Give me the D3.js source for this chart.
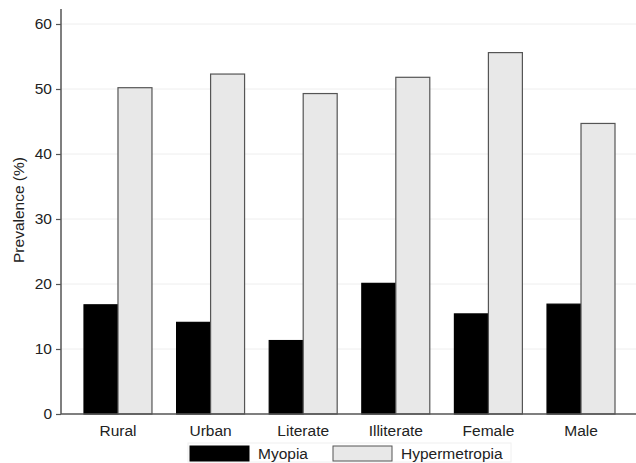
<!DOCTYPE html>
<html>
<head>
<meta charset="utf-8">
<script src="https://cdn.jsdelivr.net/npm/d3@7/dist/d3.min.js"></script>
<style>
  body { margin: 0; background: #fff; }
  text { font-family: "Liberation Sans", Arial, sans-serif; }
</style>
</head>
<body>
<svg id="chart" width="636" height="463"></svg>
<script>
var categories = ["Rural", "Urban", "Literate", "Illiterate", "Female", "Male"];
var series = ["Myopia", "Hypermetropia"];
var myopia = [16.8, 14.1, 11.3, 20.1, 15.4, 16.9];
var hypermetropia = [50.2, 52.3, 49.3, 51.8, 55.6, 44.7];
var yTicks = [0, 10, 20, 30, 40, 50, 60];

var width = 636, height = 463;
var margin = { left: 61, right: 0, top: 9, bottom: 49 };
var fontSize = 15.5;

const svg = d3.select("#chart");

var x = d3.scaleBand()
    .domain(categories)
    .range([84, 615])
    .paddingInner(0.266)
    .paddingOuter(0);

var x1 = d3.scaleBand()
    .domain(series)
    .range([0, x.bandwidth()]);

var y = d3.scaleLinear()
    .domain([0, 60])
    .range([414, 24]);

var fills = { "Myopia": "#000000", "Hypermetropia": "#e8e8e8" };

// grid
svg.append("g")
    .selectAll("line")
    .data(yTicks.slice(1))
    .join("line")
    .attr("x1", margin.left)
    .attr("x2", width)
    .attr("y1", d => y(d))
    .attr("y2", d => y(d))
    .attr("stroke", "#eeeeee")
    .attr("stroke-width", 1);

// bars
var rows = categories.map((c, i) => ({ cat: c, vals: [
    { s: "Myopia", v: myopia[i] },
    { s: "Hypermetropia", v: hypermetropia[i] }
]}));

svg.append("g")
    .selectAll("g")
    .data(rows)
    .join("g")
    .attr("transform", d => "translate(" + x(d.cat) + ",0)")
    .selectAll("rect")
    .data(d => d.vals)
    .join("rect")
    .attr("x", d => x1(d.s))
    .attr("width", x1.bandwidth())
    .attr("y", d => y(d.v))
    .attr("height", d => y(0) - y(d.v))
    .attr("fill", d => fills[d.s])
    .attr("stroke", d => d.s == "Myopia" ? "#000" : "#555")
    .attr("stroke-width", 1.2);

// y axis
var yAxis = svg.append("g")
    .attr("transform", "translate(" + margin.left + ",0)")
    .call(d3.axisLeft(y).tickValues(yTicks).tickSize(5).tickPadding(4));
yAxis.select(".domain").attr("d", "M0,9V414").attr("stroke", "#555").attr("stroke-width", 1.5);
yAxis.selectAll(".tick line").attr("stroke", "#555").attr("stroke-width", 1.2);
yAxis.selectAll(".tick text").attr("font-size", fontSize).attr("fill", "#222")
    .style("font-family", "Liberation Sans, Arial, sans-serif");

// x axis
var xAxis = svg.append("g")
    .attr("transform", "translate(0,414)")
    .call(d3.axisBottom(x).tickSize(0).tickPadding(11));
xAxis.select(".domain").attr("d", "M" + margin.left + ",0H" + width).attr("stroke", "#555").attr("stroke-width", 1.5);
xAxis.selectAll(".tick text").attr("font-size", fontSize).attr("fill", "#222")
    .style("font-family", "Liberation Sans, Arial, sans-serif");

// y label
svg.append("text")
    .attr("transform", "translate(24,210) rotate(-90)")
    .attr("text-anchor", "middle")
    .attr("font-size", fontSize)
    .attr("fill", "#222")
    .text("Prevalence (%)");

// legend
var legend = svg.append("g");
legend.append("rect")
    .attr("x", 188).attr("y", 443).attr("width", 323).attr("height", 19)
    .attr("fill", "none").attr("stroke", "#f0f0f0");
var legX = [190, 333];
series.forEach((s, i) => {
    legend.append("rect")
        .attr("x", legX[i]).attr("y", 446)
        .attr("width", 59).attr("height", 15)
        .attr("fill", fills[s])
        .attr("stroke", s == "Myopia" ? "#000" : "#555");
    legend.append("text")
        .attr("x", legX[i] + 68).attr("y", 459)
        .attr("font-size", fontSize)
        .attr("fill", "#222")
        .text(s);
});
</script>
</body>
</html>
